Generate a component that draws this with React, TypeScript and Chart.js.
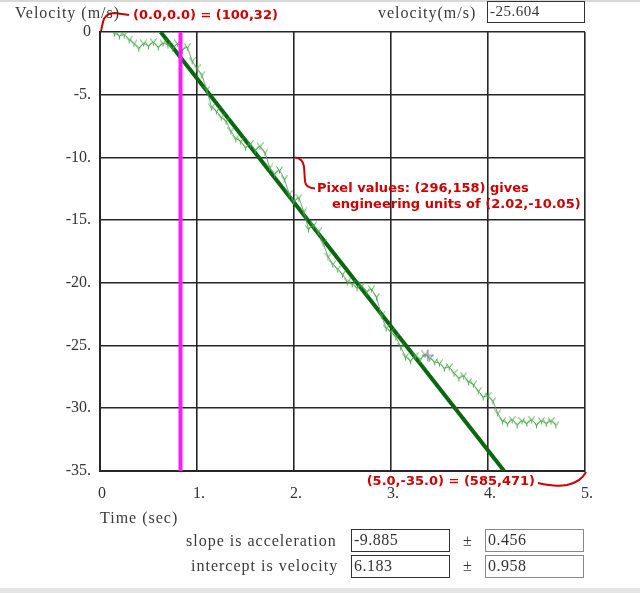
import React, { useEffect, useRef } from "react";
import { Chart, registerables } from "chart.js";
Chart.register(...registerables);

// ---- data ----
const timeSec = [
  0.15, 0.2, 0.25, 0.3, 0.35, 0.4, 0.45, 0.5, 0.55, 0.6, 0.65, 0.7, 0.75, 0.8, 0.85,
  0.9, 0.95, 1.0, 1.05, 1.1, 1.15, 1.2, 1.25, 1.3, 1.35, 1.4, 1.45, 1.5, 1.55, 1.6,
  1.65, 1.7, 1.75, 1.8, 1.85, 1.9, 1.95, 2.0, 2.05, 2.1, 2.15, 2.2, 2.25, 2.3, 2.35,
  2.4, 2.45, 2.5, 2.55, 2.6, 2.65, 2.7, 2.75, 2.8, 2.85, 2.9, 2.95, 3.0, 3.05, 3.1,
  3.15, 3.2, 3.25, 3.3, 3.35, 3.4, 3.45, 3.5, 3.55, 3.6, 3.65, 3.7, 3.75, 3.8, 3.85,
  3.9, 3.95, 4.0, 4.05, 4.1, 4.15, 4.2, 4.25, 4.3, 4.35, 4.4, 4.45, 4.5, 4.55, 4.6,
  4.65, 4.7,
];
const velocity = [
  -0.1, -0.3, -0.2, -0.6, -0.9, -1.3, -0.9, -1.1, -0.8, -1.2, -0.9, -1.0, -1.3, -0.9, -1.4,
  -1.2, -2.3, -2.9, -3.4, -4.6, -6.0, -6.3, -6.8, -7.1, -7.9, -8.5, -8.7, -9.2, -8.9, -9.4,
  -9.1, -9.6, -10.8, -11.3, -11.0, -11.7, -12.9, -13.5, -13.2, -14.3, -15.7, -15.4, -15.9, -16.8, -17.9,
  -18.5, -18.9, -19.3, -19.9, -20.1, -20.4, -20.2, -20.7, -20.5, -21.1, -22.6, -23.6, -23.9, -24.3, -25.1,
  -25.9, -26.2, -25.8, -26.1, -25.7, -26.0, -26.3, -26.4, -26.8, -26.7, -27.2, -27.6, -27.4, -27.9, -28.1,
  -28.6, -29.1, -29.0, -29.4, -30.4, -31.0, -31.2, -30.9, -31.3, -31.0, -31.2, -30.9, -31.3, -31.0, -31.2,
  -31.0, -31.3,
];
const xTickValues = [0, 1, 2, 3, 4, 5];
const yTickValues = [0, -5, -10, -15, -20, -25, -30, -35];
const SLOPE = -9.885;
const SLOPE_ERR = 0.456;
const INTERCEPT = 6.183;
const INTERCEPT_ERR = 0.958;
const CURSOR_VELOCITY = -25.604;
const MARKER_TIME = 0.83;
const CURSOR_POINT = { x: 3.38, y: -25.8 };
const X_MIN = 0, X_MAX = 5, Y_MIN = -35, Y_MAX = 0;

const SERIF = '"Liberation Serif", "DejaVu Serif", serif';
const RED = "#cc0000";

function makeGlyph(): HTMLCanvasElement {
  const c = document.createElement("canvas");
  c.width = 7;
  c.height = 8;
  const g = c.getContext("2d")!;
  g.strokeStyle = "#3fae3f";
  g.lineWidth = 1;
  g.beginPath();
  g.moveTo(0.5, 0.5);
  g.lineTo(3.5, 5);
  g.lineTo(6.5, 0.5);
  g.moveTo(3.5, 5);
  g.lineTo(3.5, 7.5);
  g.stroke();
  return c;
}

const annotationPlugin = {
  id: "redNotes",
  afterDraw(chart: any) {
    const ctx = chart.ctx;
    const xs = chart.scales.x;
    const ys = chart.scales.y;
    ctx.save();
    ctx.strokeStyle = RED;
    ctx.fillStyle = RED;
    ctx.lineWidth = 2;
    ctx.font = 'bold 13px "DejaVu Sans", sans-serif';
    ctx.textBaseline = "middle";
    ctx.textAlign = "left";

    // origin note
    let px = xs.getPixelForValue(0), py = ys.getPixelForValue(0);
    ctx.beginPath();
    ctx.moveTo(px + 1, py - 1);
    ctx.lineTo(px + 3, py - 10);
    ctx.quadraticCurveTo(px + 5, py - 19, px + 15, py - 19);
    ctx.lineTo(px + 29, py - 17);
    ctx.stroke();
    ctx.fillText("(0.0,0.0) = (100,32)", px + 33, py - 16);

    // mid note
    px = xs.getPixelForValue(2);
    py = ys.getPixelForValue(-10);
    ctx.beginPath();
    ctx.moveTo(px + 1, py);
    ctx.quadraticCurveTo(px + 9, py + 1, px + 10, py + 9);
    ctx.lineTo(px + 11, py + 24);
    ctx.quadraticCurveTo(px + 12, py + 31, px + 21, py + 31);
    ctx.stroke();
    ctx.fillText("Pixel values: (296,158) gives", px + 23, py + 31);
    ctx.fillText("engineering units of (2.02,-10.05)", px + 38, py + 47);

    // corner note
    px = xs.getPixelForValue(5);
    py = ys.getPixelForValue(-35);
    ctx.beginPath();
    ctx.moveTo(px - 47, py + 12);
    ctx.quadraticCurveTo(px - 30, py + 16, px - 18, py + 14);
    ctx.quadraticCurveTo(px - 4, py + 11, px + 1, py + 1);
    ctx.stroke();
    ctx.textAlign = "right";
    ctx.fillText("(5.0,-35.0) = (585,471)", px - 50, py + 11);
    ctx.restore();
  },
};

const boxStyle = (left: number, top: number, w: number, h: number, border: string): React.CSSProperties => ({
  position: "absolute",
  left,
  top,
  width: w,
  height: h,
  border: `1.5px solid ${border}`,
  boxSizing: "border-box",
  fontFamily: SERIF,
  fontSize: 16,
  lineHeight: `${h - 3}px`,
  paddingLeft: 2,
  color: "#333",
  letterSpacing: "0.5px",
  background: "#fff",
});

const labelStyle = (left: number, top: number, extra: React.CSSProperties = {}): React.CSSProperties => ({
  position: "absolute",
  left,
  top,
  fontFamily: SERIF,
  fontSize: 16,
  color: "#3a3a3a",
  letterSpacing: "1px",
  whiteSpace: "nowrap",
  lineHeight: "18px",
  ...extra,
});

export default function App() {
  const ref = useRef<HTMLCanvasElement>(null);

  useEffect(() => {
    if (!ref.current) return;
    const glyph = makeGlyph();
    const fitStart = { x: (Y_MAX - INTERCEPT) / SLOPE, y: Y_MAX };
    const fitEnd = { x: (Y_MIN - INTERCEPT) / SLOPE, y: Y_MIN };
    const tickLabel = (v: number) => (v === 0 ? "0" : `${v}.`);

    const chart = new Chart(ref.current, {
      type: "scatter",
      data: {
        datasets: [
          {
            label: "marker",
            data: [
              { x: MARKER_TIME, y: Y_MAX },
              { x: MARKER_TIME, y: Y_MIN },
            ],
            showLine: true,
            borderColor: "#ff1aff",
            borderWidth: 4,
            pointRadius: 0,
          },
          {
            label: "velocity",
            data: timeSec.map((t, i) => ({ x: t, y: velocity[i] })),
            showLine: true,
            borderColor: "rgba(100,145,100,0.85)",
            borderWidth: 1,
            pointStyle: glyph as any,
            pointRadius: 3,
          },
          {
            label: "fit",
            data: [fitStart, fitEnd],
            showLine: true,
            borderColor: "#08680f",
            borderWidth: 4,
            pointRadius: 0,
          },
          {
            label: "cursor",
            data: [CURSOR_POINT],
            pointStyle: "cross",
            pointRadius: 6,
            borderColor: "#c9a0e8",
            borderWidth: 2,
            backgroundColor: "#c9a0e8",
          },
        ],
      },
      options: {
        responsive: false,
        animation: false,
        layout: { padding: { top: 32, right: 55, left: 0, bottom: 0 } },
        plugins: { legend: { display: false }, tooltip: { enabled: false }, title: { display: false } },
        scales: {
          x: {
            type: "linear",
            min: X_MIN,
            max: X_MAX,
            afterFit: (s: any) => {
              s.height = 122;
            },
            afterBuildTicks: (s: any) => {
              s.ticks = xTickValues.map((v) => ({ value: v }));
            },
            ticks: {
              callback: (v: any) => tickLabel(Number(v)),
              font: { family: SERIF, size: 16 },
              color: "#333",
              padding: 13,
              labelOffset: 2,
              maxRotation: 0,
            },
            grid: { color: "#262626", lineWidth: 1.6, drawTicks: false },
            border: { display: true, color: "#262626", width: 2 },
          },
          y: {
            type: "linear",
            min: Y_MIN,
            max: Y_MAX,
            afterFit: (s: any) => {
              s.width = 100;
            },
            afterBuildTicks: (s: any) => {
              s.ticks = yTickValues.map((v) => ({ value: v }));
            },
            ticks: {
              callback: (v: any) => tickLabel(Number(v)),
              font: { family: SERIF, size: 16 },
              color: "#333",
              padding: 9,
            },
            grid: { color: "#262626", lineWidth: 1.6, drawTicks: false },
            border: { display: true, color: "#262626", width: 2 },
          },
        },
      },
      plugins: [annotationPlugin],
    });
    return () => chart.destroy();
  }, []);

  return (
    <div style={{ position: "absolute", left: 0, top: 0, width: 640, height: 593, background: "#fff", overflow: "hidden" }}>
      <canvas ref={ref} width={640} height={593} style={{ position: "absolute", left: 0, top: 0, width: 640, height: 593 }} />
      <div style={{ position: "absolute", left: 0, top: 0, width: 640, height: 2, background: "#d8d8d8" }} />
      <div style={labelStyle(15, 4)}>Velocity (m/s)</div>
      <div style={labelStyle(378, 4)}>velocity(m/s)</div>
      <div style={{ ...boxStyle(487, 1, 98, 22, "#333"), fontSize: 15 }}>{CURSOR_VELOCITY.toFixed(3)}</div>
      <div style={labelStyle(100, 509)}>Time (sec)</div>
      <div style={labelStyle(186, 532)}>slope is acceleration</div>
      <div style={boxStyle(351, 529, 99, 23, "#333")}>{SLOPE.toFixed(3)}</div>
      <div style={labelStyle(463, 532)}>±</div>
      <div style={boxStyle(485, 529, 99, 23, "#888")}>{SLOPE_ERR.toFixed(3)}</div>
      <div style={labelStyle(191, 557)}>intercept is velocity</div>
      <div style={boxStyle(351, 555, 99, 23, "#333")}>{INTERCEPT.toFixed(3)}</div>
      <div style={labelStyle(463, 557)}>±</div>
      <div style={boxStyle(485, 555, 99, 23, "#888")}>{INTERCEPT_ERR.toFixed(3)}</div>
      <div style={{ position: "absolute", left: 0, top: 588, width: 640, height: 5, background: "#e4e4e4" }} />
    </div>
  );
}
